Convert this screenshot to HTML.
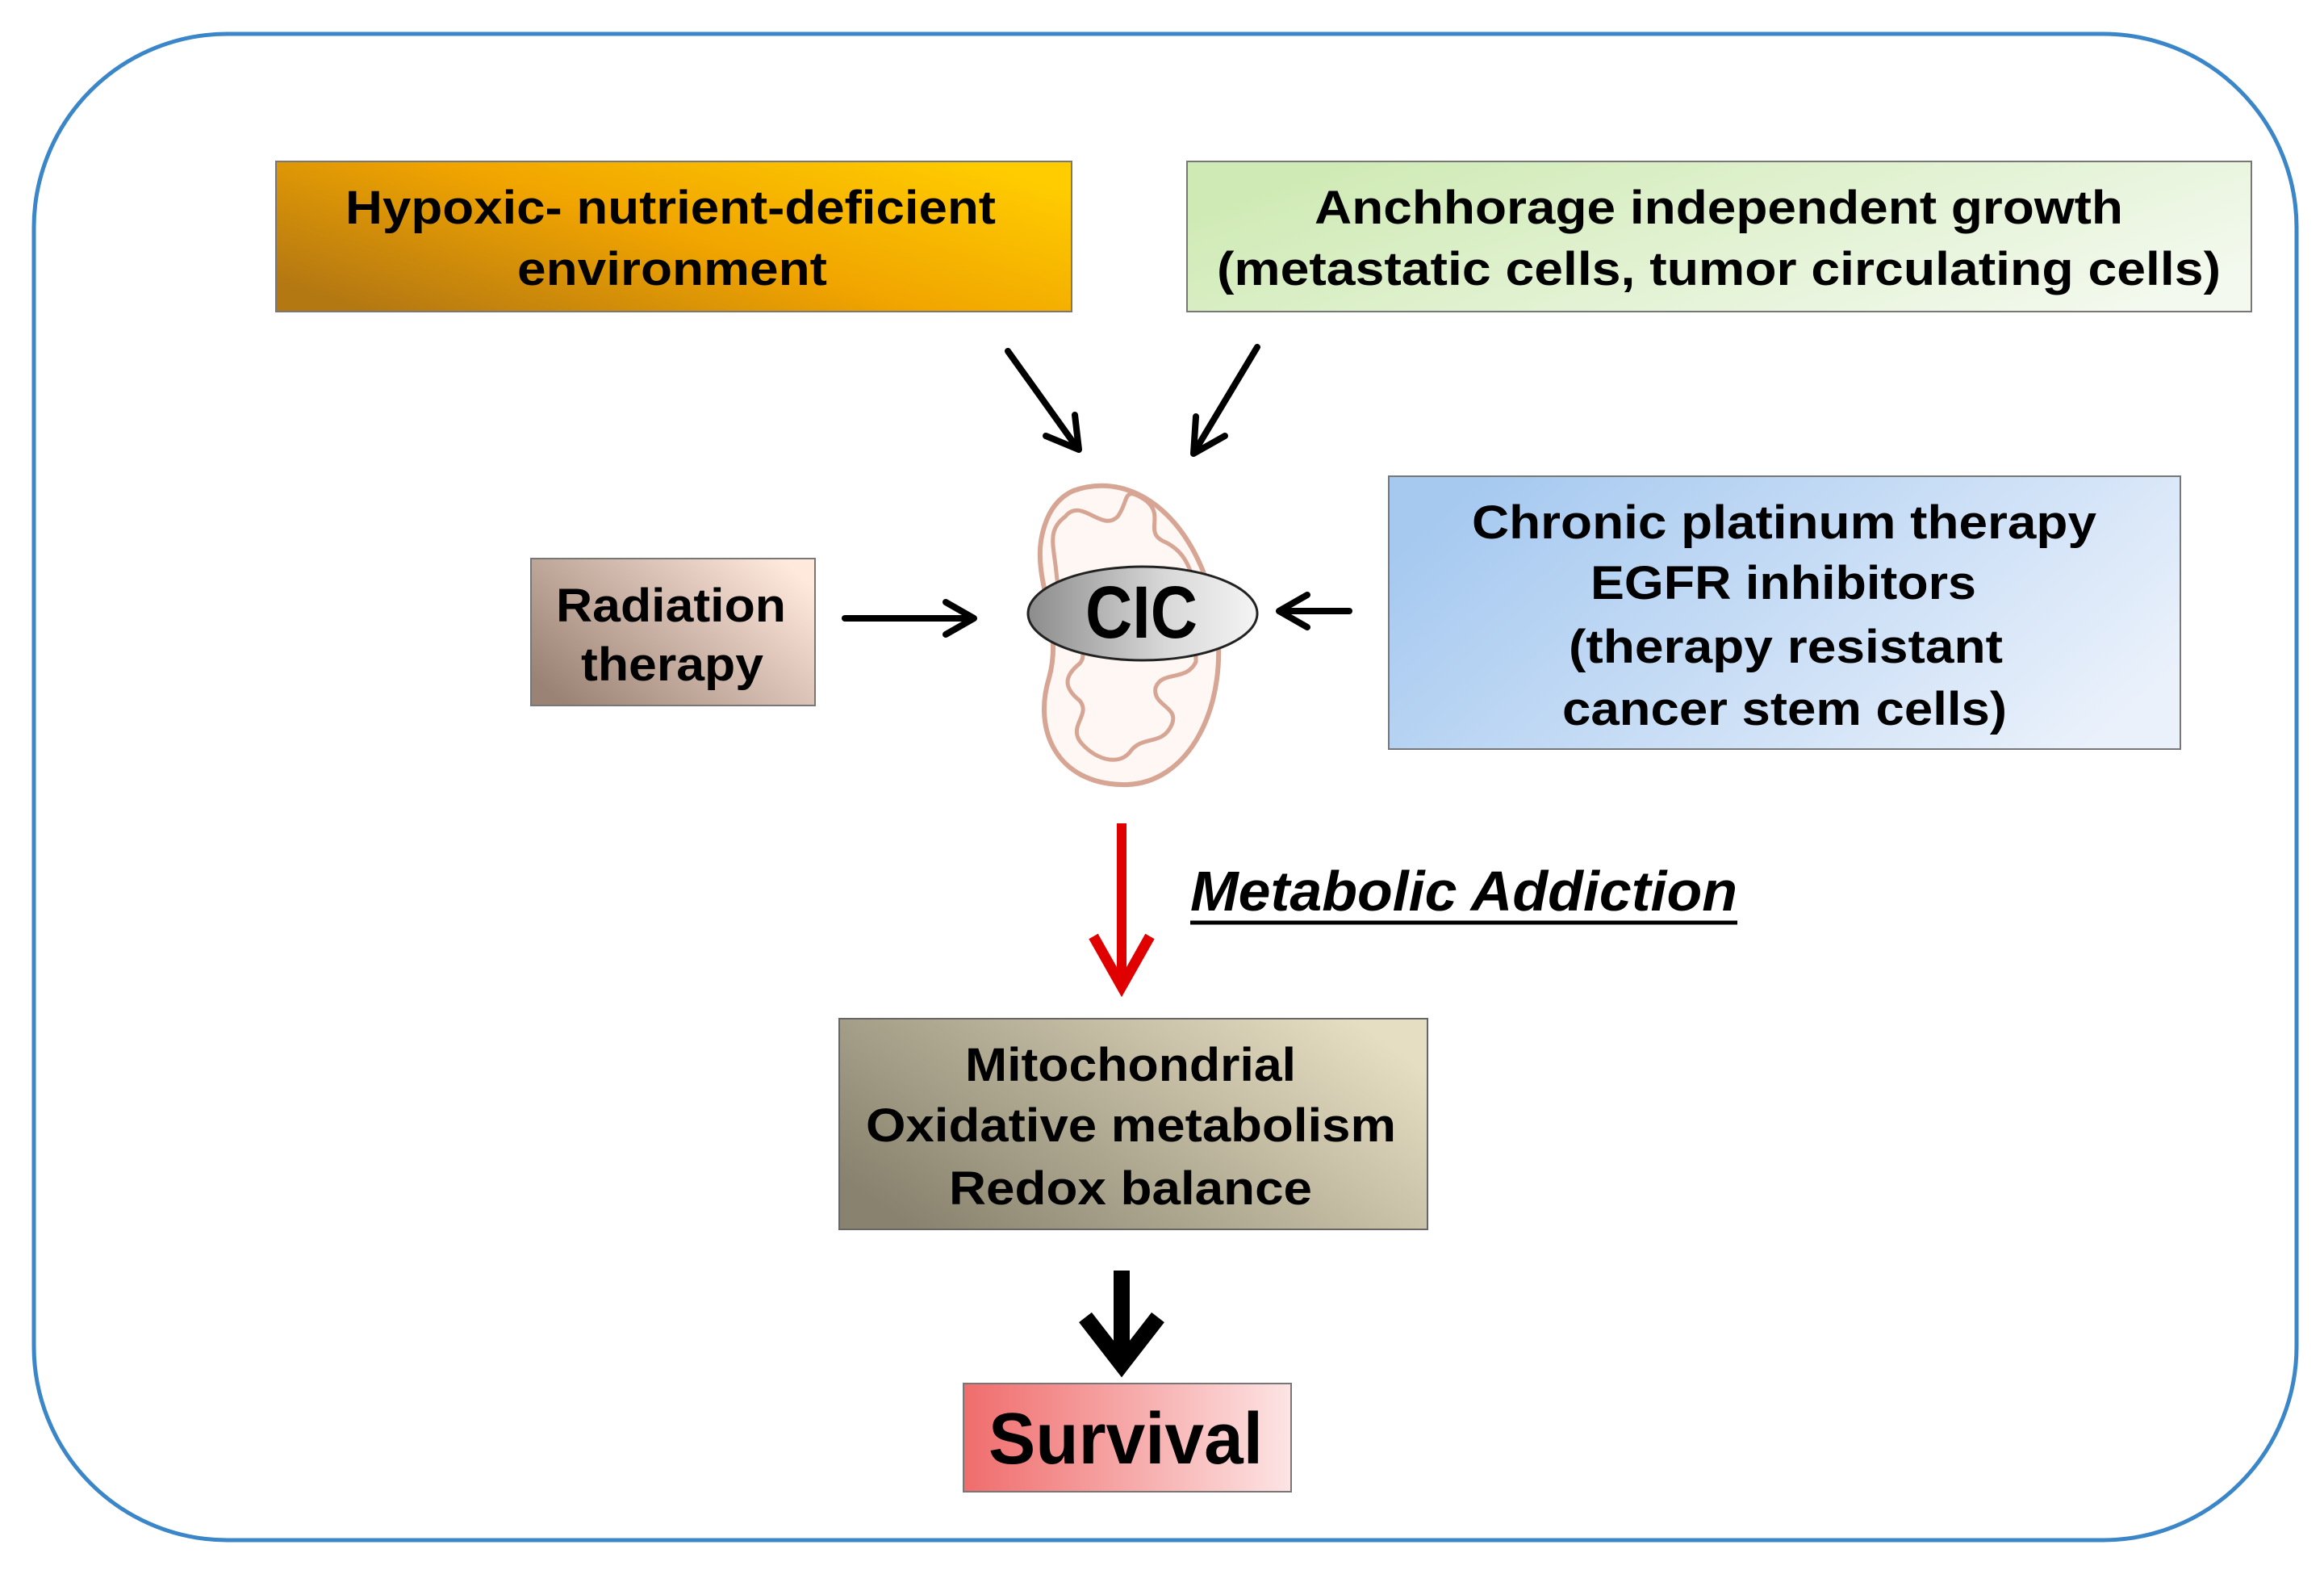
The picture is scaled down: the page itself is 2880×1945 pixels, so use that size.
<!DOCTYPE html>
<html><head><meta charset="utf-8"><style>
html,body{margin:0;padding:0;background:#fff}
svg{display:block}
text{font-family:"Liberation Sans",Arial,sans-serif;font-weight:bold;fill:#000}
</style></head><body>
<svg width="2880" height="1945" viewBox="0 0 2880 1945" xmlns="http://www.w3.org/2000/svg">
<defs>
<linearGradient id="g1" x1="0" y1="0.8" x2="1" y2="0.2"><stop offset="0" stop-color="#b47812"/><stop offset="0.5" stop-color="#f0a400"/><stop offset="1" stop-color="#ffcc00"/></linearGradient>
<linearGradient id="g2" x1="0" y1="0.3" x2="1" y2="0.7"><stop offset="0" stop-color="#cfeab4"/><stop offset="1" stop-color="#f3f9ee"/></linearGradient>
<linearGradient id="g3" x1="0" y1="0.8" x2="1" y2="0.2"><stop offset="0" stop-color="#9a8274"/><stop offset="1" stop-color="#ffe8dc"/></linearGradient>
<linearGradient id="g4" x1="0" y1="0.3" x2="1" y2="0.7"><stop offset="0" stop-color="#a6c9f0"/><stop offset="1" stop-color="#eaf1fb"/></linearGradient>
<linearGradient id="g5" x1="0" y1="0.75" x2="1" y2="0.25"><stop offset="0" stop-color="#88826e"/><stop offset="1" stop-color="#e6dec2"/></linearGradient>
<linearGradient id="g6" x1="0" y1="0" x2="1" y2="0"><stop offset="0" stop-color="#f06c6c"/><stop offset="1" stop-color="#fde4e4"/></linearGradient>
<linearGradient id="g7" x1="0" y1="0" x2="1" y2="0"><stop offset="0" stop-color="#8c8c8c"/><stop offset="0.6" stop-color="#d8d8d8"/><stop offset="1" stop-color="#f4f4f4"/></linearGradient>
</defs>
<rect x="42" y="42" width="2804" height="1866" rx="240" ry="240" fill="#fff" stroke="#3a86c8" stroke-width="5"/>

<rect x="342" y="200" width="986" height="186" fill="url(#g1)" stroke="#777" stroke-width="2"/>
<text x="428" y="277" font-size="58" textLength="806" lengthAdjust="spacingAndGlyphs">Hypoxic- nutrient-deficient</text>
<text x="641" y="353" font-size="58" textLength="384" lengthAdjust="spacingAndGlyphs">environment</text>

<rect x="1471" y="200" width="1319" height="186" fill="url(#g2)" stroke="#777" stroke-width="2"/>
<text x="1629" y="277" font-size="58" textLength="1002" lengthAdjust="spacingAndGlyphs">Anchhorage independent growth</text>
<text x="1508" y="353" font-size="58" textLength="1244" lengthAdjust="spacingAndGlyphs">(metastatic cells, tumor circulating  cells)</text>

<rect x="658" y="692" width="352" height="182" fill="url(#g3)" stroke="#777" stroke-width="2"/>
<text x="689" y="770" font-size="58" textLength="285" lengthAdjust="spacingAndGlyphs">Radiation</text>
<text x="720" y="843" font-size="58" textLength="226" lengthAdjust="spacingAndGlyphs">therapy</text>

<rect x="1721" y="590" width="981" height="338" fill="url(#g4)" stroke="#777" stroke-width="2"/>
<text x="1824" y="667" font-size="58" textLength="774" lengthAdjust="spacingAndGlyphs">Chronic platinum therapy</text>
<text x="1971" y="742" font-size="58" textLength="478" lengthAdjust="spacingAndGlyphs">EGFR inhibitors</text>
<text x="1944" y="821" font-size="58" textLength="538" lengthAdjust="spacingAndGlyphs">(therapy resistant</text>
<text x="1936" y="898" font-size="58" textLength="551" lengthAdjust="spacingAndGlyphs">cancer stem cells)</text>

<rect x="1040" y="1262" width="729" height="261" fill="url(#g5)" stroke="#666" stroke-width="2"/>
<text x="1196" y="1339" font-size="58" textLength="410" lengthAdjust="spacingAndGlyphs">Mitochondrial</text>
<text x="1073" y="1414" font-size="58" textLength="657" lengthAdjust="spacingAndGlyphs">Oxidative metabolism</text>
<text x="1176" y="1492" font-size="58" textLength="450" lengthAdjust="spacingAndGlyphs">Redox balance</text>

<rect x="1194" y="1714" width="406" height="134" fill="url(#g6)" stroke="#777" stroke-width="2"/>
<text x="1225" y="1813" font-size="90" textLength="340" lengthAdjust="spacingAndGlyphs">Survival</text>

<!-- mitochondrion -->
<path d="M1330,608 C1410,580 1485,650 1506,760 C1526,875 1472,975 1390,972 C1310,970 1280,905 1300,840 C1318,775 1282,725 1290,670 C1295,640 1308,618 1330,608 Z" fill="#fff7f3" stroke="#d6a594" stroke-width="6"/>
<path d="M1320,640 C1340,615 1365,660 1385,640 C1400,620 1390,600 1420,620 C1445,640 1415,660 1445,672 C1470,685 1475,705 1482,730 L1482,820 C1470,845 1440,830 1432,852 C1428,875 1462,875 1452,898 C1440,925 1415,910 1400,932 C1385,950 1355,940 1338,918 C1325,898 1352,885 1338,868 C1318,852 1318,838 1338,822 C1350,808 1332,795 1318,790 L1308,700 C1304,670 1300,655 1320,640 Z" fill="none" stroke="#d6a594" stroke-width="5"/>
<ellipse cx="1416" cy="760" rx="142" ry="58" fill="url(#g7)" stroke="#222" stroke-width="3"/>
<text x="1345" y="790" font-size="92" textLength="139" lengthAdjust="spacingAndGlyphs">CIC</text>

<!-- arrows -->
<g stroke="#000" stroke-width="8" fill="none" stroke-linecap="round" stroke-linejoin="round">
<line x1="1249" y1="435" x2="1335" y2="555"/><polyline points="1296,540 1337,557 1332,514"/>
<line x1="1558" y1="430" x2="1480" y2="560"/><polyline points="1482,516 1479,562 1518,540"/>
<line x1="1047" y1="766" x2="1205" y2="766"/><polyline points="1172,746 1207,766 1172,786"/>
<line x1="1672" y1="757" x2="1587" y2="757"/><polyline points="1620,737 1585,757 1620,777"/>
</g>
<line x1="1390" y1="1020" x2="1390" y2="1220" stroke="#e00000" stroke-width="12"/>
<polyline points="1355,1160 1390,1222 1425,1160" fill="none" stroke="#e00000" stroke-width="13" stroke-linejoin="miter"/>
<line x1="1390" y1="1574" x2="1390" y2="1690" stroke="#000" stroke-width="20"/>
<polyline points="1345,1632 1390,1690 1435,1632" fill="none" stroke="#000" stroke-width="20" stroke-linejoin="miter"/>

<text x="1475" y="1128" font-size="70" font-style="italic" textLength="678" lengthAdjust="spacingAndGlyphs">Metabolic Addiction</text>
<line x1="1475" y1="1143" x2="2153" y2="1143" stroke="#000" stroke-width="5"/>
</svg>
</body></html>
